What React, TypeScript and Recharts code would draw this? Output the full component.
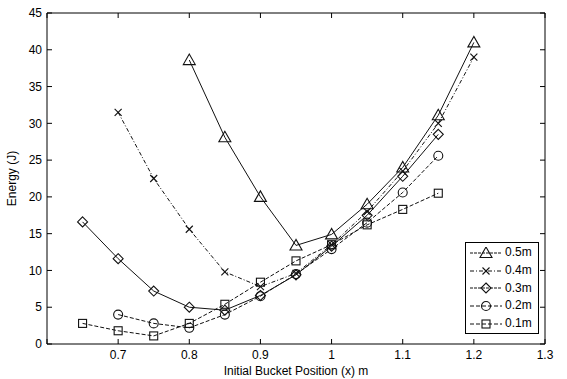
import React from "react";
import { LineChart, Line, XAxis, YAxis } from "recharts";

// initial bucket position (m) and energy (J) per drop height
const x05 = [0.8, 0.85, 0.9, 0.95, 1.0, 1.05, 1.1, 1.15, 1.2];
const e05 = [38.6, 28.1, 20.0, 13.4, 14.9, 19.0, 24.0, 31.1, 41.0];

const x04 = [0.7, 0.75, 0.8, 0.85, 0.9, 0.95, 1.0, 1.05, 1.1, 1.15, 1.2];
const e04 = [31.5, 22.5, 15.6, 9.8, 7.8, 9.6, 13.5, 18.0, 23.5, 30.0, 39.0];

const x03 = [0.65, 0.7, 0.75, 0.8, 0.85, 0.9, 0.95, 1.0, 1.05, 1.1, 1.15];
const e03 = [16.6, 11.6, 7.2, 5.0, 4.6, 6.6, 9.4, 13.3, 17.5, 22.8, 28.5];

const x02 = [0.7, 0.75, 0.8, 0.85, 0.9, 0.95, 1.0, 1.05, 1.1, 1.15];
const e02 = [4.0, 2.8, 2.2, 4.0, 6.5, 9.5, 12.9, 16.5, 20.6, 25.6];

const x01 = [0.65, 0.7, 0.75, 0.8, 0.85, 0.9, 0.95, 1.0, 1.05, 1.1, 1.15];
const e01 = [2.8, 1.8, 1.1, 2.8, 5.4, 8.4, 11.3, 13.5, 16.2, 18.3, 20.5];

const xTicks = [0.6, 0.7, 0.8, 0.9, 1.0, 1.1, 1.2, 1.3];
const yTicks = [0, 5, 10, 15, 20, 25, 30, 35, 40, 45];

const toRows = (xs: number[], ys: number[]) => xs.map((x, i) => ({ x, y: ys[i] }));

const INK = "#111";
const FONT = "Liberation Sans, Arial, sans-serif";

function drawMarker(shape: string, cx: number, cy: number, key?: any) {
  const p = { fill: "none", stroke: INK, strokeWidth: 1.1 };
  if (shape === "triangle")
    return <polygon key={key} points={`${cx},${cy - 6} ${cx - 6},${cy + 4.5} ${cx + 6},${cy + 4.5}`} {...p} />;
  if (shape === "x")
    return (
      <g key={key} {...p}>
        <line x1={cx - 3.5} y1={cy - 3.5} x2={cx + 3.5} y2={cy + 3.5} />
        <line x1={cx - 3.5} y1={cy + 3.5} x2={cx + 3.5} y2={cy - 3.5} />
      </g>
    );
  if (shape === "diamond")
    return <polygon key={key} points={`${cx},${cy - 5} ${cx + 5},${cy} ${cx},${cy + 5} ${cx - 5},${cy}`} {...p} />;
  if (shape === "circle") return <circle key={key} cx={cx} cy={cy} r={4.5} {...p} />;
  return <rect key={key} x={cx - 4} y={cy - 4} width={8} height={8} {...p} />;
}

const dotOf = (shape: string) => (props: any) => {
  const { cx, cy, index } = props;
  if (cx == null || cy == null) return <g key={index} />;
  return drawMarker(shape, cx, cy, index);
};

// the 0.5m series sits on the mirrored top/right axes (same domains) so they get drawn
const series = [
  { name: "0.5m", rows: toRows(x05, e05), shape: "triangle", dash: undefined, xId: "top", yId: "right" },
  { name: "0.4m", rows: toRows(x04, e04), shape: "x", dash: "4 2 1 2", xId: "bottom", yId: "left" },
  { name: "0.3m", rows: toRows(x03, e03), shape: "diamond", dash: undefined, xId: "bottom", yId: "left" },
  { name: "0.2m", rows: toRows(x02, e02), shape: "circle", dash: "4 2", xId: "bottom", yId: "left" },
  { name: "0.1m", rows: toRows(x01, e01), shape: "square", dash: "4 2", xId: "bottom", yId: "left" },
];

const tickStyle = { fill: "#000", fontSize: 12, fontFamily: FONT };

function LegendBox() {
  return (
    <div
      style={{
        position: "absolute",
        left: 465,
        top: 242,
        width: 74,
        height: 92,
        boxSizing: "border-box",
        border: "1px solid #000",
        background: "#fff",
        padding: "1px 2px",
        fontFamily: FONT,
        fontSize: 12,
        lineHeight: "17.8px",
      }}
    >
      {series.map((s) => (
        <div key={s.name} style={{ display: "flex", alignItems: "center", height: 17.8 }}>
          <svg width={36} height={12}>
            <line x1={2} y1={6} x2={34} y2={6} stroke={INK} strokeDasharray={s.dash ?? "3 1"} strokeWidth={1} />
            {drawMarker(s.shape, 18, 6)}
          </svg>
          <span style={{ marginLeft: 1 }}>{s.name}</span>
        </div>
      ))}
    </div>
  );
}

export default function App() {
  return (
    <div style={{ position: "absolute", left: 0, top: 0, width: 567, height: 379, background: "#fff" }}>
      <LineChart width={567} height={379} margin={{ top: 12, right: 21, left: 0, bottom: 0 }}>
        <XAxis
          xAxisId="bottom"
          dataKey="x"
          type="number"
          domain={[0.6, 1.3]}
          ticks={xTicks}
          tickFormatter={(v: number) => (v === 0.6 ? "" : v === 1 ? "1" : String(v))}
          allowDataOverflow
          height={35}
          stroke="#000"
          tick={tickStyle}
          tickSize={-5}
          tickMargin={11}
          label={{
            value: "Initial Bucket Position (x) m",
            position: "insideBottom",
            offset: 4,
            style: { ...tickStyle, fontSize: 12 },
          }}
        />
        <XAxis
          xAxisId="top"
          orientation="top"
          dataKey="x"
          type="number"
          domain={[0.6, 1.3]}
          ticks={xTicks}
          tickFormatter={() => ""}
          allowDataOverflow
          height={1}
          stroke="#000"
          tickSize={-5}
          tickMargin={0}
        />
        <YAxis
          yAxisId="left"
          type="number"
          domain={[0, 45]}
          ticks={yTicks}
          allowDataOverflow
          width={47}
          stroke="#000"
          tick={tickStyle}
          tickSize={-5}
          tickMargin={10}
          label={{
            value: "Energy (J)",
            angle: -90,
            position: "insideLeft",
            offset: 12,
            style: { ...tickStyle, textAnchor: "middle" },
          }}
        />
        <YAxis
          yAxisId="right"
          orientation="right"
          type="number"
          domain={[0, 45]}
          ticks={yTicks}
          tickFormatter={() => ""}
          allowDataOverflow
          width={1}
          stroke="#000"
          tickSize={-5}
          tickMargin={0}
        />
        {series.map((s) => (
          <Line
            key={s.name}
            data={s.rows}
            dataKey="y"
            name={s.name}
            xAxisId={s.xId}
            yAxisId={s.yId}
            stroke={INK}
            strokeWidth={1}
            strokeDasharray={s.dash}
            dot={dotOf(s.shape)}
            activeDot={false}
            isAnimationActive={false}
          />
        ))}
      </LineChart>
      <LegendBox />
    </div>
  );
}
